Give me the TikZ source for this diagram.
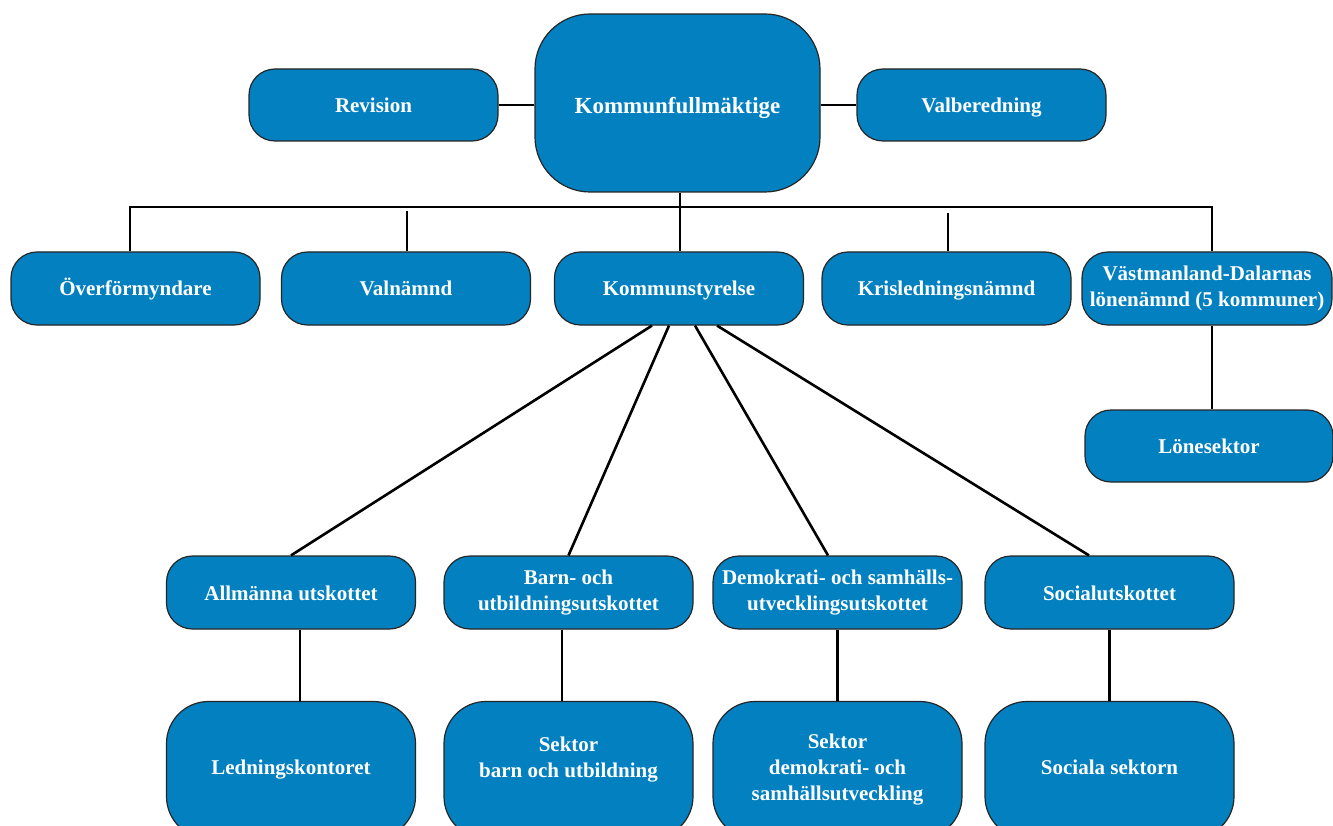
\documentclass[tikz,border=0pt]{standalone}
\usepackage{fontspec}
\setmainfont{Liberation Serif}
\usetikzlibrary{calc}
\definecolor{boxblue}{RGB}{2,128,191}
\begin{document}
\begin{tikzpicture}[x=1pt,y=-1pt]
\tikzset{
  box/.style={draw=black!85, line width=1.2pt, fill=boxblue, text=white,
    font=\fontsize{21}{26}\selectfont\bfseries, align=center, inner sep=1pt,
    minimum height=73pt, minimum width=249pt, rounded corners=26pt},
  oneline/.style={text height=15.5pt, text depth=0.5pt},
  lowline/.style={text height=9.5pt, text depth=0.5pt},
  bigbox/.style={box, minimum height=137pt, rounded corners=42pt},
  link/.style={line width=2.6pt, black}
}
\useasboundingbox (0,0) rectangle (1333,826);
\clip (0,0) rectangle (1333,826);
\fill[white] (0,0) rectangle (1333,826);

% top row
\node[box, minimum width=285pt, minimum height=178pt, rounded corners=55pt,
      font=\fontsize{23}{27}\selectfont\bfseries, text height=21pt, text depth=0.5pt]
      (kf) at (677.5,103) {Kommunfullmäktige};
\node[box, oneline, minimum height=72pt] (rev) at (373.5,105) {Revision};
\node[box, oneline, minimum height=72pt] (valb) at (981.5,105) {Valberedning};

% second row
\node[box, oneline] (over) at (135.5,288.5) {Överförmyndare};
\node[box, oneline] (valn) at (406,288.5) {Valnämnd};
\node[box, oneline] (ks) at (679,288.5) {Kommunstyrelse};
\node[box, oneline] (kris) at (946.5,288.5) {Krisledningsnämnd};
\node[box, minimum width=250pt] (vd) at (1207,288.5) {Västmanland-Dalarnas\\lönenämnd (5 kommuner)};
\node[box, oneline, minimum width=248pt, minimum height=72pt] (lon) at (1209,446) {Lönesektor};

% third row
\node[box, oneline] (allm) at (291,592.5) {Allmänna utskottet};
\node[box] (barn) at (568.5,592.5) {Barn- och\\utbildningsutskottet};
\node[box] (demo) at (837.5,592.5) {Demokrati- och samhälls-\\utvecklingsutskottet};
\node[box, oneline] (soc) at (1109.5,592.5) {Socialutskottet};

% fourth row
\node[bigbox, lowline] (ledn) at (291,770) {Ledningskontoret};
\node[bigbox] (sekb) at (568.5,770) {Sektor\\barn och utbildning\\\mbox{}};
\node[bigbox] (sekd) at (837.5,770) {Sektor\\demokrati- och\\samhällsutveckling};
\node[bigbox, lowline] (sosk) at (1109.5,770) {Sociala sektorn};

% connectors top
\draw[link] (rev.east) -- (rev.east -| kf.west);
\draw[link] (valb.west -| kf.east) -- (valb.west);

\coordinate (busL) at (130,207);
\coordinate (busR) at (1212,207);
\coordinate (kfx) at (680,0);
\coordinate (valtop) at (407,211);
\coordinate (kristop) at (948,213);
\draw[link] (busL |- over.north) -- (busL) -- (busR) -- (busR |- vd.north);
\draw[link] (kfx |- kf.south) -- (kfx |- ks.north);
\draw[link] (valtop) -- (valtop |- valn.north);
\draw[link] (kristop) -- (kristop |- kris.north);
\draw[link] (busR |- vd.south) -- (busR |- lon.north);

% fan from Kommunstyrelse
\draw[link] ($(ks.south)+(-27,0)$) -- (allm.north);
\draw[link] ($(ks.south)+(-10,0)$) -- (barn.north);
\draw[link] ($(ks.south)+(16,0)$) -- ($(demo.north)+(-9.5,0)$);
\draw[link] ($(ks.south)+(38,0)$) -- ($(soc.north)+(-20.5,0)$);

% committees to sectors
\draw[link] ($(allm.south)+(9,0)$) -- ($(ledn.north)+(9,0)$);
\draw[link] ($(barn.south)+(-6.5,0)$) -- ($(sekb.north)+(-6.5,0)$);
\draw[link] (demo.south) -- (sekd.north);
\draw[link] (soc.south) -- (sosk.north);
\end{tikzpicture}
\end{document}
